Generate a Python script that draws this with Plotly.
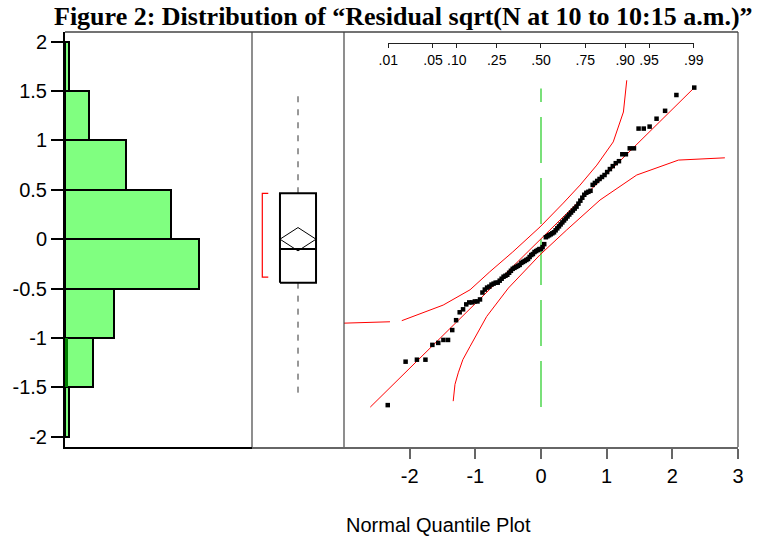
import plotly.graph_objects as go
from statistics import NormalDist

# ---------------- data ----------------
residuals = [
    -1.68, -1.24, -1.22, -1.22, -1.07, -1.05, -1.02, -1.02, -0.92, -0.82,
    -0.74, -0.71, -0.66, -0.64, -0.64, -0.63, -0.63, -0.61, -0.54, -0.51,
    -0.49, -0.48, -0.46, -0.45, -0.44, -0.44, -0.42, -0.40, -0.38, -0.37,
    -0.36, -0.34, -0.32, -0.30, -0.29, -0.28, -0.27, -0.26, -0.24, -0.23,
    -0.22, -0.21, -0.20, -0.18, -0.16, -0.15, -0.13, -0.12, -0.11, -0.10,
    -0.10, -0.08, -0.05,
    0.02, 0.03, 0.04, 0.05, 0.06, 0.07, 0.09, 0.11, 0.13, 0.15,
    0.17, 0.19, 0.21, 0.23, 0.25, 0.27, 0.29, 0.31, 0.33, 0.36,
    0.39, 0.42, 0.45, 0.47, 0.48, 0.49,
    0.55, 0.57, 0.59, 0.61, 0.63, 0.65, 0.68, 0.71, 0.74, 0.77,
    0.79, 0.86, 0.86, 0.92, 0.92,
    1.12, 1.12, 1.14, 1.22, 1.30, 1.46, 1.535,
]

# box plot summary (read)
box_q1, box_median, box_q3 = -0.44, -0.10, 0.465
box_whisker_lo, box_whisker_hi = -1.61, 1.48
box_mean, box_mean_ci = 0.0, 0.118
shortest_half = [-0.384, 0.465]

# normal fit line (read)
fit_x = [-2.60, 2.32]
fit_y = [-1.70, 1.525]

# Lilliefors-type confidence curves (read)
upper_band_x = [-3.0, -2.30, None, -2.12, -1.49, -1.08, -0.78, -0.43, -0.015,
                0.34, 0.595, 0.85, 1.10, 1.255, 1.306]
upper_band_y = [-0.85, -0.836, None, -0.825, -0.667, -0.512, -0.330, -0.129, 0.124,
                0.366, 0.548, 0.750, 0.985, 1.288, 1.609]
lower_band_x = [-1.337, -1.31, -1.26, -1.19, -1.08, -0.827, -0.497, -0.015,
                0.392, 0.899, 1.458, 2.093, 2.80]
lower_band_y = [-1.640, -1.470, -1.353, -1.219, -1.085, -0.782, -0.495, -0.158,
                0.094, 0.397, 0.650, 0.801, 0.824]

# histogram bins
hist_start, hist_end, hist_size = -2.0, 2.0, 0.5
selected_bin, selected_count = -1.25, 0.8

# tick labels
y_ticks = [-2, -1.5, -1, -0.5, 0, 0.5, 1, 1.5, 2]
y_ticklabels = ["-2", "-1.5", "-1", "-0.5", "0", "0.5", "1", "1.5", "2"]
q_ticks = [-2, -1, 0, 1, 2, 3]
q_ticklabels = ["-2", "-1", "0", "1", "2", "3"]
prob_ticks = [0.01, 0.05, 0.10, 0.25, 0.50, 0.75, 0.90, 0.95, 0.99]
prob_ticklabels = [".01", ".05", ".10", ".25", ".50", ".75", ".90", ".95", ".99"]

title_text = "<b>Figure 2: Distribution of \u201cResidual sqrt(N at 10 to 10:15 a.m.)\u201d</b>"
x_title = "Normal Quantile Plot"

# ---------------- layout geometry ----------------
W, H = 777, 537
ml, mr, mt, mb = 65, 39, 32, 90
pw = W - ml - mr
ph = H - mt - mb
d1 = (252 - ml) / pw
d2 = (344 - ml) / pw
q_range = [-3, 3]

nd = NormalDist()
n = len(residuals)
ys = sorted(residuals)
qx = [nd.inv_cdf((i + 1) / (n + 1)) for i in range(n)]

prob_vals = [nd.inv_cdf(p) for p in prob_ticks]
def qfrac(v):
    return d2 + (v - q_range[0]) / (q_range[1] - q_range[0]) * (1 - d2)
pa, pb = qfrac(prob_vals[0]), qfrac(prob_vals[-1])

AX = "Liberation Sans, Arial, sans-serif"
fig = go.Figure()

# histogram
fig.add_trace(go.Histogram(
    y=residuals, xaxis="x", yaxis="y",
    ybins=dict(start=hist_start, end=hist_end, size=hist_size),
    marker=dict(color="#80FF80", line=dict(color="black", width=2)),
    hoverinfo="skip", showlegend=False))
fig.add_trace(go.Bar(
    y=[selected_bin], x=[selected_count], width=[hist_size], orientation="h",
    xaxis="x", yaxis="y", marker=dict(color="#008000", line=dict(width=0)),
    hoverinfo="skip", showlegend=False))

# box plot (panel 2)
bc, bh = 0.5, 0.196
fig.add_trace(go.Scatter(
    x=[bc, bc, None, bc, bc], y=[box_q3, box_whisker_hi, None, box_q1, box_whisker_lo],
    xaxis="x2", yaxis="y", mode="lines",
    line=dict(color="#333333", width=1, dash="6px,7px"),
    hoverinfo="skip", showlegend=False))
fig.add_trace(go.Scatter(
    x=[bc - bh, bc + bh, bc + bh, bc - bh, bc - bh, None, bc - bh, bc + bh],
    y=[box_q1, box_q1, box_q3, box_q3, box_q1, None, box_median, box_median],
    xaxis="x2", yaxis="y", mode="lines",
    line=dict(color="black", width=2), hoverinfo="skip", showlegend=False))
fig.add_trace(go.Scatter(
    x=[bc - bh, bc, bc + bh, bc, bc - bh],
    y=[box_mean, box_mean + box_mean_ci, box_mean, box_mean - box_mean_ci, box_mean],
    xaxis="x2", yaxis="y", mode="lines",
    line=dict(color="black", width=1), hoverinfo="skip", showlegend=False))
fig.add_trace(go.Scatter(
    x=[0.177, 0.112, 0.112, 0.177],
    y=[shortest_half[1], shortest_half[1], shortest_half[0], shortest_half[0]],
    xaxis="x2", yaxis="y", mode="lines",
    line=dict(color="red", width=1.2), hoverinfo="skip", showlegend=False))

# carrier for the probability axis (drawn first, invisible)
fig.add_trace(go.Scatter(
    x=[prob_vals[0], prob_vals[-1]], y=[0, 0], xaxis="x4", yaxis="y",
    mode="markers", marker=dict(opacity=0), hoverinfo="skip", showlegend=False))

# quantile plot (panel 3)
fig.add_trace(go.Scatter(
    x=[0, 0], y=[fit_y[0], fit_y[1]], xaxis="x3", yaxis="y", mode="lines",
    line=dict(color="#22CC22", width=1.2, dash="46px,15px"),
    hoverinfo="skip", showlegend=False))
fig.add_trace(go.Scatter(
    x=upper_band_x, y=upper_band_y, xaxis="x3", yaxis="y", mode="lines",
    line=dict(color="red", width=1), connectgaps=False,
    hoverinfo="skip", showlegend=False))
fig.add_trace(go.Scatter(
    x=lower_band_x, y=lower_band_y, xaxis="x3", yaxis="y", mode="lines",
    line=dict(color="red", width=1), hoverinfo="skip", showlegend=False))
fig.add_trace(go.Scatter(
    x=fit_x, y=fit_y, xaxis="x3", yaxis="y", mode="lines",
    line=dict(color="red", width=1), hoverinfo="skip", showlegend=False))
fig.add_trace(go.Scatter(
    x=qx, y=ys, xaxis="x3", yaxis="y", mode="markers",
    marker=dict(symbol="square", size=4.5, color="black", line=dict(width=0)),
    hoverinfo="skip", showlegend=False))

frame = "#444444"
shapes = [
    dict(type="line", xref="paper", yref="paper", x0=0, x1=1, y0=1, y1=1,
         line=dict(color=frame, width=1.5)),
    dict(type="line", xref="paper", yref="paper", x0=1, x1=1, y0=0, y1=1,
         line=dict(color=frame, width=1.2)),
    dict(type="line", xref="paper", yref="paper", x0=d1, x1=d1, y0=0, y1=1,
         line=dict(color=frame, width=1.2)),
    dict(type="line", xref="paper", yref="paper", x0=d2, x1=d2, y0=0, y1=1,
         line=dict(color=frame, width=1.2)),
]

fig.update_layout(
    width=W, height=H, autosize=False,
    margin=dict(l=ml, r=mr, t=mt, b=mb, pad=0),
    paper_bgcolor="white", plot_bgcolor="rgba(0,0,0,0)",
    barmode="overlay", bargap=0, showlegend=False,
    title=dict(text=title_text, x=54 / W, xanchor="left", xref="container",
               y=1 - 7 / H, yanchor="top", yref="container",
               font=dict(family="Liberation Serif, Times New Roman, serif",
                         size=26, color="black")),
    xaxis=dict(domain=[0, d1], range=[0, 46], anchor="y", showline=True,
               linecolor="black", linewidth=2, showticklabels=False, ticks="",
               showgrid=False, zeroline=False),
    xaxis2=dict(domain=[d1, d2], range=[0, 1], anchor="y", showline=True,
                linecolor="#666666", linewidth=1.5, showticklabels=False, ticks="",
                showgrid=False, zeroline=False),
    xaxis3=dict(domain=[d2, 1], range=q_range, anchor="y", showline=True,
                linecolor="#666666", linewidth=1.5, ticks="outside", ticklen=10,
                tickwidth=1.5, tickcolor="#666666", tickvals=q_ticks,
                ticktext=q_ticklabels, tickfont=dict(family=AX, size=20, color="black"),
                showgrid=False, zeroline=False),
    xaxis4=dict(domain=[pa, pb], range=[prob_vals[0], prob_vals[-1]],
                anchor="free", position=(ph - (42.7 - mt)) / ph, side="bottom",
                showline=True, linecolor="#222222", linewidth=1, ticks="outside",
                ticklen=4, tickwidth=1, tickcolor="#222222", tickvals=prob_vals,
                ticktext=prob_ticklabels, tickfont=dict(family=AX, size=14, color="black"),
                showgrid=False, zeroline=False),
    yaxis=dict(domain=[0, 1], range=[-2.104, 2.098], anchor="x", showline=True,
               linecolor="black", linewidth=2, ticks="outside", ticklen=12,
               tickwidth=2, tickcolor="black", tickvals=y_ticks, ticktext=y_ticklabels,
               tickfont=dict(family=AX, size=20, color="black"),
               showgrid=False, zeroline=False),
    shapes=shapes,
    annotations=[dict(text=x_title, xref="paper", yref="paper", x=d2,
                      y=(H - mb - 525) / ph,
                      xanchor="left", yanchor="middle", showarrow=False,
                      font=dict(family=AX, size=20, color="black"))],
)

fig.write_html("out.html", config={"displayModeBar": False},
               post_script="document.body.style.margin='0';")
